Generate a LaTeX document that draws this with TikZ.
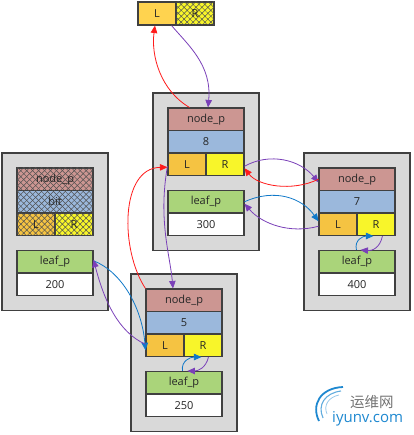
\documentclass[tikz,border=0pt]{standalone}
\usepackage{fontspec}
\setmainfont{Open Sans}
\newfontfamily\cjkfont{Noto Sans CJK SC}
\usetikzlibrary{arrows.meta,patterns.meta}
\definecolor{cnp}{HTML}{CC9692}
\definecolor{cval}{HTML}{9BB8DC}
\definecolor{cL}{HTML}{F5C342}
\definecolor{cR}{HTML}{F8F52A}
\definecolor{ctopL}{HTML}{FFD34F}
\definecolor{cleaf}{HTML}{AAD47A}
\definecolor{cgray}{HTML}{D9D9D9}
\definecolor{cborder}{HTML}{404040}
\definecolor{cred}{HTML}{FF1A1A}
\definecolor{cpur}{HTML}{7A40B8}
\definecolor{cblue}{HTML}{0F78C8}
\definecolor{chatch}{HTML}{505050}
\definecolor{cwm}{HTML}{1E88D0}
\tikzset{
  cell/.style={draw=cborder,line width=1.1pt,inner sep=0pt,minimum height=22.5pt,
    font=\fontsize{11}{13}\selectfont,text=black!85},
  outerbox/.style={draw=cborder,fill=cgray,line width=1.1pt,inner sep=0pt,
    minimum width=106pt,minimum height=157.5pt},
  hatch/.style={postaction={pattern={Lines[angle=45,distance=4.2pt,line width=0.5pt]},pattern color=chatch},
                postaction={pattern={Lines[angle=-45,distance=4.2pt,line width=0.5pt]},pattern color=chatch}},
  nohatch/.style={},
  link/.style={line width=0.8pt,-{Triangle[length=7.5pt,width=6.5pt]}},
}
\newcommand\record[5]{%
  \node[outerbox] (#1) at (#2+38,#3+63.75) {};
  \node[cell,fill=cnp,#5,minimum width=76pt] (#1-np) at (#2+38,#3+11.25) {node\_p};
  \node[cell,fill=cval,#5,minimum width=76pt] (#1-v) at (#2+38,#3+33.75) {#4};
  \node[cell,fill=cL,#5,minimum width=38pt] (#1-L) at (#2+19,#3+56.25) {L};
  \node[cell,fill=cR,#5,minimum width=38pt] (#1-R) at (#2+57,#3+56.25) {R};
}
\newcommand\leafrec[4]{%
  \node[cell,fill=cleaf,minimum width=76pt] (#1-lp) at (#2+38,#3+93.75) {leaf\_p};
  \node[cell,fill=white,minimum width=76pt] (#1-lv) at (#2+38,#3+116.25) {#4};
}
\begin{document}
\begin{tikzpicture}[x=1pt,y=-1pt]
\useasboundingbox (0,0) rectangle (413,435);
% top pair
\node[cell,fill=ctopL,minimum width=38pt,minimum height=23pt] (tL) at (157,13.5) {L};
\node[cell,fill=cR,hatch,minimum width=38pt,minimum height=23pt] (tR) at (195,13.5) {R};
% records
\record{m}{168}{108}{8}{nohatch}
\leafrec{m}{168}{108}{300}
\record{l}{17}{168}{bit}{hatch}
\leafrec{l}{17}{168}{200}
\record{r}{319}{168}{7}{nohatch}
\leafrec{r}{319}{168}{400}
\record{b}{146}{289}{5}{nohatch}
\leafrec{b}{146}{289}{250}
% connectors
\draw[link,cred] ([xshift=22pt]m-np.north west) .. controls (160,90) and (151,55) .. ([xshift=-2pt]tL.south);
\draw[link,cpur] ([xshift=-5pt]tL.south east) .. controls (188,45) and (212,65) .. ([xshift=2pt]m-np.north);
\draw[link,cred] (b-np.north west) .. controls (120,250) and (120,168) .. ([yshift=-3pt]m-L.west);
\draw[link,cpur] ([yshift=-2pt]m-L.west) .. controls (158,220) and (170,255) .. ([xshift=-11pt]b-np.north);
\draw[link,cpur] ([yshift=-2pt]m-R.east) .. controls (270,152) and (300,160) .. ([yshift=-3pt]r-np.west);
\draw[link,cred] (r-np.west) .. controls (292,192) and (258,186) .. ([yshift=-4pt]m-R.east);
\draw[link,cblue] ([yshift=0pt]m-lp.east) .. controls (275,188) and (302,198) .. ([yshift=3pt]r-L.west);
\draw[link,cpur] ([yshift=-2pt]r-L.west) .. controls (290,234) and (262,224) .. ([yshift=-2pt]m-lp.east);
\draw[link,cblue] ([xshift=38pt]r-lp.north west) .. controls (354,240) and (363,236) .. ([xshift=17pt]r-R.south west);
\draw[link,cpur] ([xshift=26pt]r-R.south west) .. controls (380,248) and (372,251) .. ([xshift=42pt]r-lp.north west);
\draw[link,cblue] ([xshift=37pt]b-lp.north west) .. controls (181,361) and (190,357) .. ([xshift=18pt]b-R.south west);
\draw[link,cpur] ([xshift=25pt]b-R.south west) .. controls (206,368) and (198,371) .. ([xshift=42pt]b-lp.north west);
\draw[link,cblue] ([yshift=1pt]l-lp.east) .. controls (122,272) and (142,308) .. ([yshift=-5pt]b-L.west);
\draw[link,cpur] ([yshift=1pt]b-L.west) .. controls (118,332) and (104,300) .. ([yshift=2pt]l-lp.east);
% watermark
\node[anchor=west,inner sep=0pt,text=black!55,font=\cjkfont\fontsize{14.5}{15}\selectfont] (wm1) at (350,402) {运维网};
\node[anchor=west,inner sep=0pt,text=cwm,font=\fontsize{15}{15}\selectfont] (wm2) at (332,419) {iyunv.com};
\draw[cwm,line width=1.8pt] (319,421) .. controls (311,405) and (320,388) .. (343,387);
\draw[cwm!70,line width=1.1pt] (323,418) .. controls (317,405) and (325,393) .. (341,391);
\draw[cwm!45,line width=0.8pt] (327,414) .. controls (323,405) and (329,397) .. (339,395);
\end{tikzpicture}
\end{document}
